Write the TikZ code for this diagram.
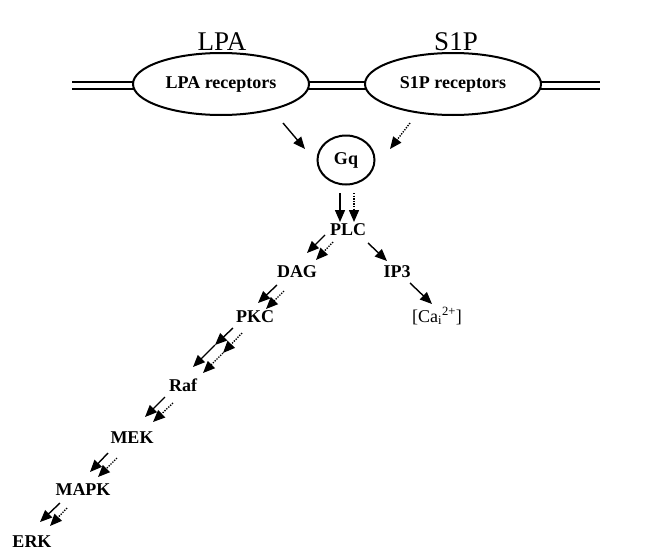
\documentclass[tikz,border=0pt]{standalone}
\usepackage{fontspec}
\setmainfont{Liberation Serif}
\usetikzlibrary{arrows.meta,shapes.geometric}
\begin{document}
\begin{tikzpicture}[x=1pt,y=-1pt,
  title/.style={font=\fontsize{27}{30}\selectfont, inner sep=0pt},
  lbl/.style={font=\bfseries\fontsize{18}{21}\selectfont, inner sep=0pt},
  rcpt/.style={ellipse, draw, line width=2pt, fill=white, minimum width=176pt, minimum height=62pt, inner sep=0pt, font=\bfseries\fontsize{18}{21}\selectfont},
  sa/.style={line width=1.4pt, -{Triangle[length=12pt,width=10pt]}},
  da/.style={line width=1.4pt, dash pattern=on 1.3pt off 1.3pt, -{Triangle[length=12pt,width=10pt]}},
  mem/.style={line width=2pt}
]
\useasboundingbox (0,0) rectangle (650,554);
% membrane
\coordinate (m1l) at (72,82);
\coordinate (m1r) at (600,82);
\coordinate (m2l) at (72,89);
\coordinate (m2r) at (600,89);
\draw[mem] (m1l) -- (m1r);
\draw[mem] (m2l) -- (m2r);
% titles
\node[title] (lpat) at (222,42) {LPA};
\node[title] (s1pt) at (456,42) {S1P};
% receptors
\node[rcpt] (lpar) at (221,84) {LPA receptors};
\node[rcpt] (s1pr) at (453,84) {S1P receptors};
% Gq
\node[ellipse, draw, line width=2pt, minimum width=57pt, minimum height=49pt, inner sep=0pt, font=\bfseries\fontsize{18}{21}\selectfont] (gq) at (346,160) {Gq};
% cascade
\node[lbl] (plc) at (348,230) {PLC};
\node[lbl] (dag) at (297,272) {DAG};
\node[lbl] (ip3) at (397,272) {IP3};
\node[font=\fontsize{18}{21}\selectfont, inner sep=0pt] (ca) at (437,316) {[Ca\textsubscript{i}\textsuperscript{2+}]};
\node[lbl] (pkc) at (255,317) {PKC};
\node[lbl] (raf) at (183,385) {Raf};
\node[lbl] (mek) at (132,438) {MEK};
\node[lbl] (mapk) at (83,490) {MAPK};
\node[lbl] (erk) at (32,542) {ERK};
% arrows
\draw[sa] ([shift={(62,39)}]lpar.center) -- ([shift={(-41,-11)}]gq.center);
\draw[da] ([shift={(-43,39)}]s1pr.center) -- ([shift={(44,-11)}]gq.center);
\draw[sa] ([shift={(-6,33)}]gq.center) -- ([shift={(-8,-8)}]plc.center);
\draw[da] ([shift={(8,33)}]gq.center) -- ([shift={(6,-8)}]plc.center);
\draw[sa] ([shift={(-23,5)}]plc.center) -- ([shift={(10,-19)}]dag.center);
\draw[da] ([shift={(-15,12)}]plc.center) -- ([shift={(19,-12)}]dag.center);
\draw[sa] ([shift={(20,13)}]plc.center) -- ([shift={(-10,-11)}]ip3.center);
\draw[sa] ([shift={(13,11)}]ip3.center) -- ([shift={(-5,-12)}]ca.center);
\draw[sa] ([shift={(-20,13)}]dag.center) -- ([shift={(3,-14)}]pkc.center);
\draw[da] ([shift={(-13,19)}]dag.center) -- ([shift={(11,-8)}]pkc.center);
\draw[sa] ([shift={(-22,11)}]pkc.center) -- ([shift={(-40,28)}]pkc.center);
\draw[sa] ([shift={(-40,28)}]pkc.center) -- ([shift={(10,-18)}]raf.center);
\draw[da] ([shift={(-13,16)}]pkc.center) -- ([shift={(-32,36)}]pkc.center);
\draw[da] ([shift={(-32,36)}]pkc.center) -- ([shift={(20,-12)}]raf.center);
\draw[sa] ([shift={(-18,12)}]raf.center) -- ([shift={(13,-21)}]mek.center);
\draw[da] ([shift={(-10,18)}]raf.center) -- ([shift={(21,-16)}]mek.center);
\draw[sa] ([shift={(-24,15)}]mek.center) -- ([shift={(7,-18)}]mapk.center);
\draw[da] ([shift={(-15,20)}]mek.center) -- ([shift={(15,-13)}]mapk.center);
\draw[sa] ([shift={(-23,13)}]mapk.center) -- ([shift={(8,-20)}]erk.center);
\draw[da] ([shift={(-16,18)}]mapk.center) -- ([shift={(18,-16)}]erk.center);
\end{tikzpicture}
\end{document}
